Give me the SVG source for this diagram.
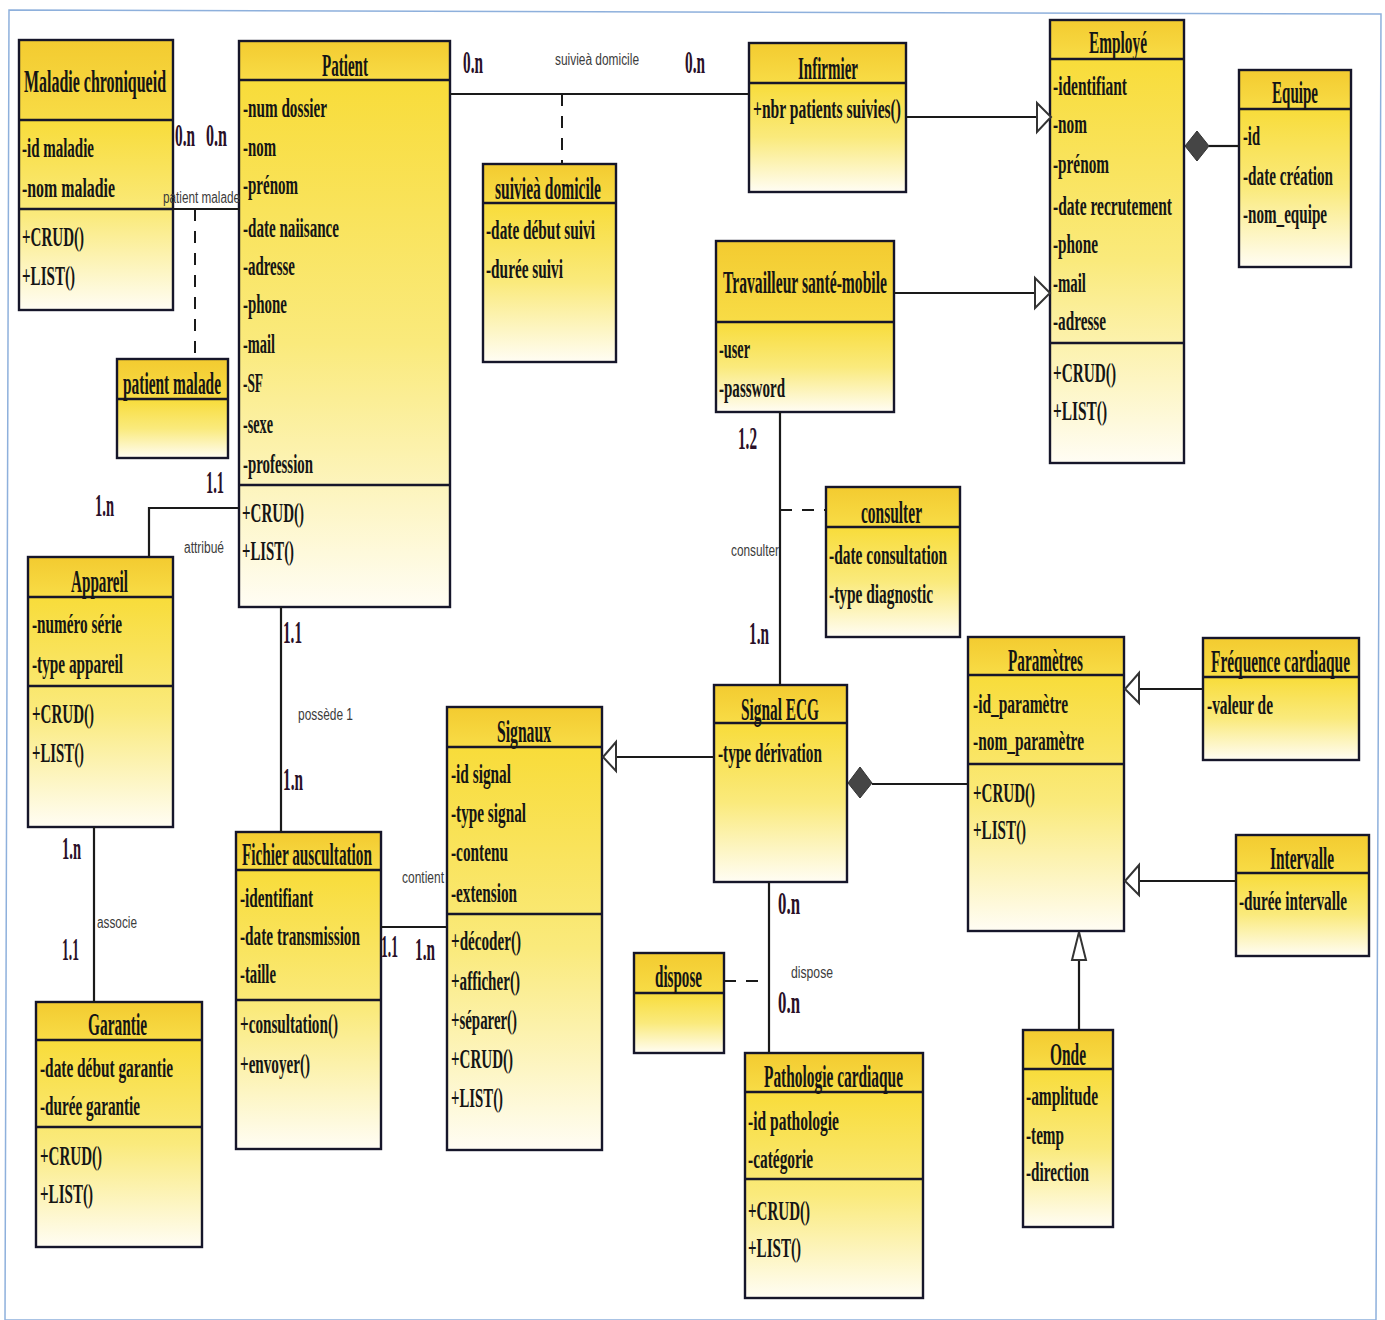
<svg xmlns="http://www.w3.org/2000/svg" width="1385" height="1320" viewBox="0 0 1385 1320">
<style>
.t{font-family:"Liberation Serif",serif;font-weight:bold;font-size:32px;fill:#151515}
.a{font-family:"Liberation Serif",serif;font-weight:bold;font-size:28px;fill:#151515}
.m{font-family:"Liberation Serif",serif;font-weight:bold;font-size:31px;fill:#2a1028}
.l{font-family:"Liberation Sans",sans-serif;font-size:16px;fill:#3c3c3c}
.hd{fill:url(#hg)}
.bd{fill:url(#bg)}
.fr{fill:none;stroke:#16162a;stroke-width:2.4}
.dv{stroke:#16162a;stroke-width:2.4}
.cn{stroke:#1a1a1a;stroke-width:2.2;fill:none}
.dash{stroke:#1a1a1a;stroke-width:2;fill:none;stroke-dasharray:12 10}
.gen{fill:#ffffff;stroke:#333;stroke-width:2}
.dia{fill:#454545;stroke:#333;stroke-width:1}
</style>
<defs>
<linearGradient id="hg" x1="0" y1="0" x2="0" y2="1">
<stop offset="0" stop-color="#f3cb30"/>
<stop offset="1" stop-color="#f8dc46"/>
</linearGradient>
<linearGradient id="bg" x1="0" y1="0" x2="0" y2="1">
<stop offset="0" stop-color="#f8dc3a"/>
<stop offset="0.5" stop-color="#faea7c"/>
<stop offset="1" stop-color="#fffdf4"/>
</linearGradient>
</defs>
<rect x="0" y="0" width="1385" height="1320" fill="#ffffff"/>
<polygon points="9,10 1381,14 1376,1320 5,1320" fill="none" stroke="#8eb0dc" stroke-width="1.5"/>

<g id="maladie">
<rect class="hd" x="19" y="40" width="154" height="80"/>
<rect class="bd" x="19" y="120" width="154" height="190"/>
<rect class="fr" x="19" y="40" width="154" height="270"/>
<line class="dv" x1="19" y1="120" x2="173" y2="120"/>
<line class="dv" x1="19" y1="209" x2="173" y2="209"/>
<text class="t" x="24" y="92" textLength="142" lengthAdjust="spacingAndGlyphs">Maladie chroniqueid</text>
<text class="a" x="22" y="157" textLength="72" lengthAdjust="spacingAndGlyphs">-id maladie</text>
<text class="a" x="22" y="197" textLength="93" lengthAdjust="spacingAndGlyphs">-nom  maladie</text>
<text class="a" x="22" y="246" textLength="62" lengthAdjust="spacingAndGlyphs">+CRUD()</text>
<text class="a" x="22" y="285" textLength="53" lengthAdjust="spacingAndGlyphs">+LIST()</text>
</g>

<g id="patient">
<rect class="hd" x="239" y="41" width="211" height="39"/>
<rect class="bd" x="239" y="80" width="211" height="527"/>
<rect class="fr" x="239" y="41" width="211" height="566"/>
<line class="dv" x1="239" y1="80" x2="450" y2="80"/>
<line class="dv" x1="239" y1="485" x2="450" y2="485"/>
<text class="t" x="322" y="76" textLength="46" lengthAdjust="spacingAndGlyphs">Patient</text>
<text class="a" x="243" y="117" textLength="84" lengthAdjust="spacingAndGlyphs">-num dossier</text>
<text class="a" x="243" y="156" textLength="33" lengthAdjust="spacingAndGlyphs">-nom</text>
<text class="a" x="243" y="194" textLength="55" lengthAdjust="spacingAndGlyphs">-prénom</text>
<text class="a" x="243" y="237" textLength="96" lengthAdjust="spacingAndGlyphs">-date naiisance</text>
<text class="a" x="243" y="275" textLength="52" lengthAdjust="spacingAndGlyphs">-adresse</text>
<text class="a" x="243" y="313" textLength="44" lengthAdjust="spacingAndGlyphs">-phone</text>
<text class="a" x="243" y="353" textLength="32" lengthAdjust="spacingAndGlyphs">-mail</text>
<text class="a" x="243" y="392" textLength="20" lengthAdjust="spacingAndGlyphs">-SF</text>
<text class="a" x="243" y="433" textLength="30" lengthAdjust="spacingAndGlyphs">-sexe</text>
<text class="a" x="243" y="473" textLength="70" lengthAdjust="spacingAndGlyphs">-profession</text>
<text class="a" x="242" y="522" textLength="62" lengthAdjust="spacingAndGlyphs">+CRUD()</text>
<text class="a" x="242" y="560" textLength="52" lengthAdjust="spacingAndGlyphs">+LIST()</text>
</g>

<g id="suivi">
<rect class="hd" x="483" y="164" width="133" height="39"/>
<rect class="bd" x="483" y="203" width="133" height="159"/>
<rect class="fr" x="483" y="164" width="133" height="198"/>
<line class="dv" x1="483" y1="203" x2="616" y2="203"/>
<text class="t" x="495" y="199" textLength="106" lengthAdjust="spacingAndGlyphs">suivieà domicile</text>
<text class="a" x="486" y="239" textLength="109" lengthAdjust="spacingAndGlyphs">-date début suivi</text>
<text class="a" x="486" y="278" textLength="77" lengthAdjust="spacingAndGlyphs">-durée suivi</text>
</g>

<g id="infirmier">
<rect class="hd" x="749" y="43" width="157" height="40"/>
<rect class="bd" x="749" y="83" width="157" height="109"/>
<rect class="fr" x="749" y="43" width="157" height="149"/>
<line class="dv" x1="749" y1="83" x2="906" y2="83"/>
<text class="t" x="798" y="79" textLength="60" lengthAdjust="spacingAndGlyphs">Infirmier</text>
<text class="a" x="753" y="118" textLength="148" lengthAdjust="spacingAndGlyphs">+nbr patients suivies()</text>
</g>

<g id="employe">
<rect class="hd" x="1050" y="20" width="134" height="39"/>
<rect class="bd" x="1050" y="59" width="134" height="404"/>
<rect class="fr" x="1050" y="20" width="134" height="443"/>
<line class="dv" x1="1050" y1="59" x2="1184" y2="59"/>
<line class="dv" x1="1050" y1="343" x2="1184" y2="343"/>
<text class="t" x="1089" y="53" textLength="58" lengthAdjust="spacingAndGlyphs">Employé</text>
<text class="a" x="1053" y="95" textLength="74" lengthAdjust="spacingAndGlyphs">-identifiant</text>
<text class="a" x="1053" y="133" textLength="34" lengthAdjust="spacingAndGlyphs">-nom</text>
<text class="a" x="1053" y="173" textLength="56" lengthAdjust="spacingAndGlyphs">-prénom</text>
<text class="a" x="1053" y="215" textLength="119" lengthAdjust="spacingAndGlyphs">-date recrutement</text>
<text class="a" x="1053" y="253" textLength="45" lengthAdjust="spacingAndGlyphs">-phone</text>
<text class="a" x="1053" y="292" textLength="33" lengthAdjust="spacingAndGlyphs">-mail</text>
<text class="a" x="1053" y="330" textLength="53" lengthAdjust="spacingAndGlyphs">-adresse</text>
<text class="a" x="1053" y="382" textLength="63" lengthAdjust="spacingAndGlyphs">+CRUD()</text>
<text class="a" x="1053" y="420" textLength="54" lengthAdjust="spacingAndGlyphs">+LIST()</text>
</g>

<g id="equipe">
<rect class="hd" x="1239" y="70" width="112" height="39"/>
<rect class="bd" x="1239" y="109" width="112" height="158"/>
<rect class="fr" x="1239" y="70" width="112" height="197"/>
<line class="dv" x1="1239" y1="109" x2="1351" y2="109"/>
<text class="t" x="1272" y="103" textLength="46" lengthAdjust="spacingAndGlyphs">Equipe</text>
<text class="a" x="1243" y="145" textLength="17" lengthAdjust="spacingAndGlyphs">-id</text>
<text class="a" x="1243" y="185" textLength="90" lengthAdjust="spacingAndGlyphs">-date création</text>
<text class="a" x="1243" y="223" textLength="84" lengthAdjust="spacingAndGlyphs">-nom_equipe</text>
</g>

<g id="travailleur">
<rect class="hd" x="716" y="241" width="178" height="81"/>
<rect class="bd" x="716" y="322" width="178" height="90"/>
<rect class="fr" x="716" y="241" width="178" height="171"/>
<line class="dv" x1="716" y1="322" x2="894" y2="322"/>
<text class="t" x="723" y="293" textLength="164" lengthAdjust="spacingAndGlyphs">Travailleur santé-mobile</text>
<text class="a" x="719" y="358" textLength="31" lengthAdjust="spacingAndGlyphs">-user</text>
<text class="a" x="719" y="397" textLength="66" lengthAdjust="spacingAndGlyphs">-password</text>
</g>

<g id="patient-malade">
<rect class="hd" x="117" y="359" width="111" height="40"/>
<rect class="bd" x="117" y="399" width="111" height="59"/>
<rect class="fr" x="117" y="359" width="111" height="99"/>
<line class="dv" x1="117" y1="399" x2="228" y2="399"/>
<text class="t" x="123" y="394" textLength="98" lengthAdjust="spacingAndGlyphs">patient malade</text>
</g>

<g id="consulter">
<rect class="hd" x="826" y="487" width="134" height="40"/>
<rect class="bd" x="826" y="527" width="134" height="110"/>
<rect class="fr" x="826" y="487" width="134" height="150"/>
<line class="dv" x1="826" y1="527" x2="960" y2="527"/>
<text class="t" x="861" y="523" textLength="61" lengthAdjust="spacingAndGlyphs">consulter</text>
<text class="a" x="829" y="564" textLength="118" lengthAdjust="spacingAndGlyphs">-date consultation</text>
<text class="a" x="829" y="603" textLength="104" lengthAdjust="spacingAndGlyphs">-type diagnostic</text>
</g>

<g id="appareil">
<rect class="hd" x="28" y="557" width="145" height="40"/>
<rect class="bd" x="28" y="597" width="145" height="230"/>
<rect class="fr" x="28" y="557" width="145" height="270"/>
<line class="dv" x1="28" y1="597" x2="173" y2="597"/>
<line class="dv" x1="28" y1="686" x2="173" y2="686"/>
<text class="t" x="71" y="592" textLength="57" lengthAdjust="spacingAndGlyphs">Appareil</text>
<text class="a" x="32" y="633" textLength="90" lengthAdjust="spacingAndGlyphs">-numéro série</text>
<text class="a" x="32" y="673" textLength="91" lengthAdjust="spacingAndGlyphs">-type appareil</text>
<text class="a" x="32" y="723" textLength="62" lengthAdjust="spacingAndGlyphs">+CRUD()</text>
<text class="a" x="32" y="762" textLength="52" lengthAdjust="spacingAndGlyphs">+LIST()</text>
</g>

<g id="signal-ecg">
<rect class="hd" x="714" y="685" width="133" height="38"/>
<rect class="bd" x="714" y="723" width="133" height="159"/>
<rect class="fr" x="714" y="685" width="133" height="197"/>
<line class="dv" x1="714" y1="723" x2="847" y2="723"/>
<text class="t" x="741" y="720" textLength="78" lengthAdjust="spacingAndGlyphs">Signal ECG</text>
<text class="a" x="718" y="762" textLength="104" lengthAdjust="spacingAndGlyphs">-type dérivation</text>
</g>

<g id="parametres">
<rect class="hd" x="968" y="637" width="156" height="38"/>
<rect class="bd" x="968" y="675" width="156" height="256"/>
<rect class="fr" x="968" y="637" width="156" height="294"/>
<line class="dv" x1="968" y1="675" x2="1124" y2="675"/>
<line class="dv" x1="968" y1="764" x2="1124" y2="764"/>
<text class="t" x="1008" y="671" textLength="75" lengthAdjust="spacingAndGlyphs">Paramètres</text>
<text class="a" x="973" y="713" textLength="95" lengthAdjust="spacingAndGlyphs">-id_paramètre</text>
<text class="a" x="973" y="750" textLength="111" lengthAdjust="spacingAndGlyphs">-nom_paramètre</text>
<text class="a" x="973" y="802" textLength="62" lengthAdjust="spacingAndGlyphs">+CRUD()</text>
<text class="a" x="973" y="839" textLength="53" lengthAdjust="spacingAndGlyphs">+LIST()</text>
</g>

<g id="frequence">
<rect class="hd" x="1203" y="638" width="156" height="39"/>
<rect class="bd" x="1203" y="677" width="156" height="83"/>
<rect class="fr" x="1203" y="638" width="156" height="122"/>
<line class="dv" x1="1203" y1="677" x2="1359" y2="677"/>
<text class="t" x="1211" y="672" textLength="139" lengthAdjust="spacingAndGlyphs">Fréquence cardiaque</text>
<text class="a" x="1207" y="714" textLength="66" lengthAdjust="spacingAndGlyphs">-valeur de</text>
</g>

<g id="intervalle">
<rect class="hd" x="1236" y="835" width="133" height="38"/>
<rect class="bd" x="1236" y="873" width="133" height="83"/>
<rect class="fr" x="1236" y="835" width="133" height="121"/>
<line class="dv" x1="1236" y1="873" x2="1369" y2="873"/>
<text class="t" x="1270" y="869" textLength="64" lengthAdjust="spacingAndGlyphs">Intervalle</text>
<text class="a" x="1239" y="910" textLength="108" lengthAdjust="spacingAndGlyphs">-durée intervalle</text>
</g>

<g id="signaux">
<rect class="hd" x="447" y="707" width="155" height="40"/>
<rect class="bd" x="447" y="747" width="155" height="403"/>
<rect class="fr" x="447" y="707" width="155" height="443"/>
<line class="dv" x1="447" y1="747" x2="602" y2="747"/>
<line class="dv" x1="447" y1="914" x2="602" y2="914"/>
<text class="t" x="497" y="742" textLength="54" lengthAdjust="spacingAndGlyphs">Signaux</text>
<text class="a" x="451" y="783" textLength="60" lengthAdjust="spacingAndGlyphs">-id signal</text>
<text class="a" x="451" y="822" textLength="75" lengthAdjust="spacingAndGlyphs">-type signal</text>
<text class="a" x="451" y="861" textLength="57" lengthAdjust="spacingAndGlyphs">-contenu</text>
<text class="a" x="451" y="902" textLength="66" lengthAdjust="spacingAndGlyphs">-extension</text>
<text class="a" x="451" y="950" textLength="70" lengthAdjust="spacingAndGlyphs">+décoder()</text>
<text class="a" x="451" y="990" textLength="69" lengthAdjust="spacingAndGlyphs">+afficher()</text>
<text class="a" x="451" y="1029" textLength="66" lengthAdjust="spacingAndGlyphs">+séparer()</text>
<text class="a" x="451" y="1068" textLength="62" lengthAdjust="spacingAndGlyphs">+CRUD()</text>
<text class="a" x="451" y="1107" textLength="52" lengthAdjust="spacingAndGlyphs">+LIST()</text>
</g>

<g id="fichier">
<rect class="hd" x="236" y="832" width="145" height="38"/>
<rect class="bd" x="236" y="870" width="145" height="279"/>
<rect class="fr" x="236" y="832" width="145" height="317"/>
<line class="dv" x1="236" y1="870" x2="381" y2="870"/>
<line class="dv" x1="236" y1="1000" x2="381" y2="1000"/>
<text class="t" x="242" y="865" textLength="130" lengthAdjust="spacingAndGlyphs">Fichier auscultation</text>
<text class="a" x="240" y="907" textLength="73" lengthAdjust="spacingAndGlyphs">-identifiant</text>
<text class="a" x="240" y="945" textLength="120" lengthAdjust="spacingAndGlyphs">-date transmission</text>
<text class="a" x="240" y="983" textLength="36" lengthAdjust="spacingAndGlyphs">-taille</text>
<text class="a" x="240" y="1033" textLength="98" lengthAdjust="spacingAndGlyphs">+consultation()</text>
<text class="a" x="240" y="1073" textLength="70" lengthAdjust="spacingAndGlyphs">+envoyer()</text>
</g>

<g id="garantie">
<rect class="hd" x="36" y="1002" width="166" height="38"/>
<rect class="bd" x="36" y="1040" width="166" height="207"/>
<rect class="fr" x="36" y="1002" width="166" height="245"/>
<line class="dv" x1="36" y1="1040" x2="202" y2="1040"/>
<line class="dv" x1="36" y1="1127" x2="202" y2="1127"/>
<text class="t" x="88" y="1035" textLength="59" lengthAdjust="spacingAndGlyphs">Garantie</text>
<text class="a" x="40" y="1077" textLength="133" lengthAdjust="spacingAndGlyphs">-date début garantie</text>
<text class="a" x="40" y="1115" textLength="100" lengthAdjust="spacingAndGlyphs">-durée garantie</text>
<text class="a" x="40" y="1165" textLength="62" lengthAdjust="spacingAndGlyphs">+CRUD()</text>
<text class="a" x="40" y="1203" textLength="53" lengthAdjust="spacingAndGlyphs">+LIST()</text>
</g>

<g id="dispose">
<rect class="hd" x="634" y="953" width="90" height="40"/>
<rect class="bd" x="634" y="993" width="90" height="60"/>
<rect class="fr" x="634" y="953" width="90" height="100"/>
<line class="dv" x1="634" y1="993" x2="724" y2="993"/>
<text class="t" x="655" y="987" textLength="47" lengthAdjust="spacingAndGlyphs">dispose</text>
</g>

<g id="pathologie">
<rect class="hd" x="745" y="1053" width="178" height="39"/>
<rect class="bd" x="745" y="1092" width="178" height="206"/>
<rect class="fr" x="745" y="1053" width="178" height="245"/>
<line class="dv" x1="745" y1="1092" x2="923" y2="1092"/>
<line class="dv" x1="745" y1="1179" x2="923" y2="1179"/>
<text class="t" x="764" y="1087" textLength="139" lengthAdjust="spacingAndGlyphs">Pathologie cardiaque</text>
<text class="a" x="748" y="1130" textLength="91" lengthAdjust="spacingAndGlyphs">-id pathologie</text>
<text class="a" x="748" y="1168" textLength="65" lengthAdjust="spacingAndGlyphs">-catégorie</text>
<text class="a" x="748" y="1220" textLength="62" lengthAdjust="spacingAndGlyphs">+CRUD()</text>
<text class="a" x="748" y="1257" textLength="53" lengthAdjust="spacingAndGlyphs">+LIST()</text>
</g>

<g id="onde">
<rect class="hd" x="1023" y="1030" width="90" height="39"/>
<rect class="bd" x="1023" y="1069" width="90" height="158"/>
<rect class="fr" x="1023" y="1030" width="90" height="197"/>
<line class="dv" x1="1023" y1="1069" x2="1113" y2="1069"/>
<text class="t" x="1050" y="1065" textLength="36" lengthAdjust="spacingAndGlyphs">Onde</text>
<text class="a" x="1026" y="1105" textLength="72" lengthAdjust="spacingAndGlyphs">-amplitude</text>
<text class="a" x="1026" y="1144" textLength="38" lengthAdjust="spacingAndGlyphs">-temp</text>
<text class="a" x="1026" y="1181" textLength="63" lengthAdjust="spacingAndGlyphs">-direction</text>
</g>

<g id="connectors">
<line class="cn" x1="173" y1="209" x2="240" y2="209"/>
<line class="dash" x1="195" y1="209" x2="195" y2="359"/>
<line class="cn" x1="450" y1="94" x2="749" y2="94"/>
<line class="dash" x1="562" y1="94" x2="562" y2="164" stroke-dasharray="15 15"/>
<line class="cn" x1="906" y1="117" x2="1037" y2="117"/>
<polygon class="gen" points="1037,103 1051,117 1037,132"/>
<line class="cn" x1="894" y1="293" x2="1035" y2="293"/>
<polygon class="gen" points="1035,278 1050,293 1035,308"/>
<line class="cn" x1="1209" y1="146" x2="1239" y2="146"/>
<polygon class="dia" points="1185,146 1197,131 1209,146 1197,161"/>
<polyline class="cn" points="239,508 149,508 149,557"/>
<line class="cn" x1="281" y1="607" x2="281" y2="832"/>
<line class="cn" x1="94" y1="827" x2="94" y2="1002"/>
<line class="cn" x1="381" y1="927" x2="447" y2="927" stroke="#4a1818"/>
<line class="cn" x1="616" y1="757" x2="714" y2="757"/>
<polygon class="gen" points="616,742 603,757 616,771"/>
<line class="cn" x1="780" y1="412" x2="780" y2="685"/>
<line class="dash" x1="780" y1="510" x2="826" y2="510" stroke-dasharray="6 6"/>
<line class="cn" x1="872" y1="784" x2="968" y2="784"/>
<polygon class="dia" points="848,783 860,767 872,783 860,798"/>
<line class="cn" x1="1139" y1="689" x2="1203" y2="689"/>
<polygon class="gen" points="1139,673 1125,689 1139,703"/>
<line class="cn" x1="1139" y1="881" x2="1236" y2="881"/>
<polygon class="gen" points="1139,865 1125,881 1139,895"/>
<line class="cn" x1="1079" y1="960" x2="1079" y2="1030"/>
<polygon class="gen" points="1072,960 1079,932 1086,960"/>
<line class="cn" x1="769" y1="882" x2="769" y2="1053"/>
<line class="dash" x1="724" y1="981" x2="769" y2="981" stroke-dasharray="7 5"/>

<text class="m" x="175" y="146" textLength="20" lengthAdjust="spacingAndGlyphs">0.n</text>
<text class="m" x="206" y="146" textLength="21" lengthAdjust="spacingAndGlyphs">0.n</text>
<text class="l" x="163" y="203" textLength="77" lengthAdjust="spacingAndGlyphs">patient malade</text>
<text class="m" x="463" y="73" textLength="20" lengthAdjust="spacingAndGlyphs">0.n</text>
<text class="m" x="685" y="73" textLength="20" lengthAdjust="spacingAndGlyphs">0.n</text>
<text class="l" x="555" y="65" textLength="84" lengthAdjust="spacingAndGlyphs">suivieà domicile</text>
<text class="m" x="206" y="493" textLength="18" lengthAdjust="spacingAndGlyphs">1.1</text>
<text class="m" x="95" y="516" textLength="19" lengthAdjust="spacingAndGlyphs">1.n</text>
<text class="l" x="184" y="553" textLength="40" lengthAdjust="spacingAndGlyphs">attribué</text>
<text class="m" x="283" y="643" textLength="19" lengthAdjust="spacingAndGlyphs">1.1</text>
<text class="m" x="283" y="790" textLength="20" lengthAdjust="spacingAndGlyphs">1.n</text>
<text class="l" x="298" y="720" textLength="55" lengthAdjust="spacingAndGlyphs">possède 1</text>
<text class="m" x="62" y="859" textLength="19" lengthAdjust="spacingAndGlyphs">1.n</text>
<text class="m" x="62" y="960" textLength="17" lengthAdjust="spacingAndGlyphs">1.1</text>
<text class="l" x="97" y="928" textLength="40" lengthAdjust="spacingAndGlyphs">associe</text>
<text class="m" x="381" y="957" textLength="17" lengthAdjust="spacingAndGlyphs">1.1</text>
<text class="m" x="415" y="960" textLength="20" lengthAdjust="spacingAndGlyphs">1.n</text>
<text class="l" x="402" y="883" textLength="42" lengthAdjust="spacingAndGlyphs">contient</text>
<text class="m" x="738" y="449" textLength="19" lengthAdjust="spacingAndGlyphs">1.2</text>
<text class="m" x="749" y="644" textLength="20" lengthAdjust="spacingAndGlyphs">1.n</text>
<text class="l" x="731" y="556" textLength="48" lengthAdjust="spacingAndGlyphs">consulter</text>
<text class="m" x="778" y="914" textLength="22" lengthAdjust="spacingAndGlyphs">0.n</text>
<text class="m" x="778" y="1013" textLength="22" lengthAdjust="spacingAndGlyphs">0.n</text>
<text class="l" x="791" y="978" textLength="42" lengthAdjust="spacingAndGlyphs">dispose</text>
</g>
</svg>
